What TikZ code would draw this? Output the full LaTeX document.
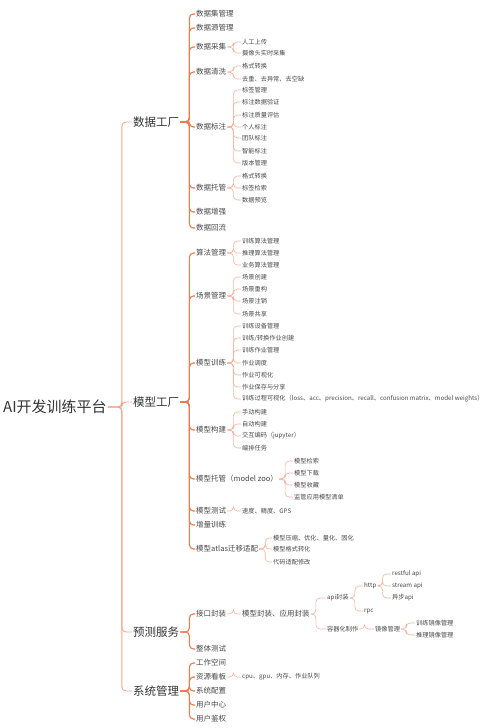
\documentclass[tikz,border=0pt]{standalone}
\usepackage{fontspec}
\setmainfont{Noto Sans CJK SC}
\definecolor{rootColor}{HTML}{F2A68C}
\definecolor{branchColor}{HTML}{EE7A4E}
\definecolor{leafColor}{HTML}{F4B29C}
\definecolor{txtColor}{HTML}{333333}
\definecolor{subColor}{HTML}{484848}
\tikzset{
	fork/.style={rounded corners=4pt, to path={(\tikztostart.east) -- ++(#1,0) |- (\tikztotarget.west)}},
	fork/.default=6,
	rootLink/.style={fork=14, draw=rootColor, line width=0.9pt},
	branchLink/.style={fork=9, draw=branchColor, line width=1.1pt},
	leafLink/.style={fork=#1, draw=leafColor, line width=0.6pt},
	leafLink/.default=6,
	rootBox/.style={anchor=west, inner sep=1pt, text=txtColor, font=\fontsize{15}{15}\selectfont},
	mainBox/.style={anchor=west, inner sep=1pt, text=txtColor, font=\fontsize{11.5}{12}\selectfont},
	subBox/.style={anchor=west, inner sep=1pt, text=subColor, font=\fontsize{7.5}{8}\selectfont},
	leafBox/.style={anchor=west, inner sep=1pt, text=subColor, font=\fontsize{6.2}{7}\selectfont}
}

\begin{document}
\begin{tikzpicture}[x=1pt,y=-1pt]
	\useasboundingbox (0,0) rectangle (500,728);
	\node[rootBox] (r) at (2, 407) {AI开发训练平台};
	\node[mainBox] (d) at (132, 122) {数据工厂};
	\node[mainBox] (m) at (132, 402) {模型工厂};
	\node[mainBox] (p) at (132, 632) {预测服务};
	\node[mainBox] (s) at (132, 691) {系统管理};
	\path[rootLink] (r) edge (d) edge (m) edge (p) edge (s);
	% data factory
	\node[subBox] (d1) at (195, 14) {数据集管理};
	\node[subBox] (d2) at (195, 28) {数据源管理};
	\node[subBox] (d3) at (195, 47) {数据采集};
	\node[subBox] (d4) at (195, 72) {数据清洗};
	\node[subBox] (d5) at (195, 127) {数据标注};
	\node[subBox] (d6) at (195, 188) {数据托管};
	\node[subBox] (d7) at (195, 212) {数据增强};
	\node[subBox] (d8) at (195, 228) {数据回流};
	\path[branchLink] (d) edge (d1) edge (d2) edge (d3) edge (d4) edge (d5) edge (d6) edge (d7) edge (d8);
	\node[leafBox] (d3_1) at (241, 42) {人工上传};
	\node[leafBox] (d3_2) at (241, 53) {摄像头实时采集};
	\path[leafLink] (d3) edge (d3_1) edge (d3_2);
	\node[leafBox] (d4_1) at (241, 66) {格式转换};
	\node[leafBox] (d4_2) at (241, 79) {去重、去异常、去空缺};
	\path[leafLink] (d4) edge (d4_1) edge (d4_2);
	\node[leafBox] (d5_1) at (241, 90) {标签管理};
	\node[leafBox] (d5_2) at (241, 102) {标注数据验证};
	\node[leafBox] (d5_3) at (241, 115) {标注质量评估};
	\node[leafBox] (d5_4) at (241, 127) {个人标注};
	\node[leafBox] (d5_5) at (241, 138) {团队标注};
	\node[leafBox] (d5_6) at (241, 151) {智能标注};
	\node[leafBox] (d5_7) at (241, 163) {版本管理};
	\path[leafLink] (d5) edge (d5_1) edge (d5_2) edge (d5_3) edge (d5_4) edge (d5_5) edge (d5_6) edge (d5_7);
	\node[leafBox] (d6_1) at (241, 176) {格式转换};
	\node[leafBox] (d6_2) at (241, 188) {标签检索};
	\node[leafBox] (d6_3) at (241, 200) {数据预览};
	\path[leafLink] (d6) edge (d6_1) edge (d6_2) edge (d6_3);
	% model factory
	\node[subBox] (m1) at (195, 253) {算法管理};
	\node[subBox] (m2) at (195, 296) {场景管理};
	\node[subBox] (m3) at (195, 363) {模型训练};
	\node[subBox] (m4) at (195, 430) {模型构建};
	\node[subBox] (m5) at (195, 479) {模型托管（model zoo）};
	\node[subBox] (m6) at (195, 511) {模型测试};
	\node[subBox] (m7) at (195, 525) {增量训练};
	\node[subBox] (m8) at (195, 549) {模型atlas迁移适配};
	\path[branchLink] (m) edge (m1) edge (m2) edge (m3) edge (m4) edge (m5) edge (m6) edge (m7) edge (m8);
	\node[leafBox] (m1_1) at (241, 241) {训练算法管理};
	\node[leafBox] (m1_2) at (241, 253) {推理算法管理};
	\node[leafBox] (m1_3) at (241, 265) {业务算法管理};
	\path[leafLink] (m1) edge (m1_1) edge (m1_2) edge (m1_3);
	\node[leafBox] (m2_1) at (241, 277) {场景创建};
	\node[leafBox] (m2_2) at (241, 289) {场景重构};
	\node[leafBox] (m2_3) at (241, 301) {场景注销};
	\node[leafBox] (m2_4) at (241, 314) {场景共享};
	\path[leafLink] (m2) edge (m2_1) edge (m2_2) edge (m2_3) edge (m2_4);
	\node[leafBox] (m3_1) at (241, 326) {训练设备管理};
	\node[leafBox] (m3_2) at (241, 338) {训练/转换作业创建};
	\node[leafBox] (m3_3) at (241, 350) {训练作业管理};
	\node[leafBox] (m3_4) at (241, 363) {作业调度};
	\node[leafBox] (m3_5) at (241, 375) {作业可视化};
	\node[leafBox] (m3_6) at (241, 387) {作业保存与分享};
	\node[leafBox] (m3_7) at (241, 399) {训练过程可视化（loss、acc、precision、recall、confusion matrix、model weights）};
	\path[leafLink] (m3) edge (m3_1) edge (m3_2) edge (m3_3) edge (m3_4) edge (m3_5) edge (m3_6) edge (m3_7);
	\node[leafBox] (m4_1) at (241, 412) {手动构建};
	\node[leafBox] (m4_2) at (241, 424) {自动构建};
	\node[leafBox] (m4_3) at (241, 436) {交互编码（jupyter）};
	\node[leafBox] (m4_4) at (241, 448) {编排任务};
	\path[leafLink] (m4) edge (m4_1) edge (m4_2) edge (m4_3) edge (m4_4);
	\node[leafBox] (m5_1) at (293, 461) {模型检索};
	\node[leafBox] (m5_2) at (293, 473) {模型下载};
	\node[leafBox] (m5_3) at (293, 485) {模型收藏};
	\node[leafBox] (m5_4) at (293, 497) {监管应用模型清单};
	\path[leafLink] (m5) edge (m5_1) edge (m5_2) edge (m5_3) edge (m5_4);
	\node[leafBox] (m6_1) at (241, 511) {速度、精度、GPS};
	\path[leafLink] (m6) edge (m6_1);
	\node[leafBox] (m8_1) at (272, 538) {模型压缩、优化、量化、固化};
	\node[leafBox] (m8_2) at (272, 549) {模型格式转化};
	\node[leafBox] (m8_3) at (272, 562) {代码适配修改};
	\path[leafLink] (m8) edge (m8_1) edge (m8_2) edge (m8_3);
	% prediction service
	\node[subBox] (p1) at (195, 614) {接口封装};
	\node[subBox] (p2) at (195, 649) {整体测试};
	\path[branchLink] (p) edge (p1) edge (p2);
	\node[subBox] (p1_1) at (241, 614) {模型封装、应用封装};
	\path[leafLink] (p1) edge (p1_1);
	\node[leafBox] (api) at (326, 598) {api封装};
	\node[leafBox] (box) at (326, 629) {容器化制作};
	\path[leafLink=5] (p1_1) edge (api) edge (box);
	\node[leafBox] (http) at (363, 586) {http};
	\node[leafBox] (rpc) at (363, 611) {rpc};
	\path[leafLink=5] (api) edge (http) edge (rpc);
	\node[leafBox] (http_1) at (391, 574) {restful api};
	\node[leafBox] (http_2) at (391, 586) {stream api};
	\node[leafBox] (http_3) at (391, 598) {异步api};
	\path[leafLink=5] (http) edge (http_1) edge (http_2) edge (http_3);
	\node[leafBox] (img) at (374, 629) {镜像管理};
	\path[leafLink=5] (box) edge (img);
	\node[leafBox] (img_1) at (415, 623) {训练镜像管理};
	\node[leafBox] (img_2) at (415, 635) {推理镜像管理};
	\path[leafLink=5] (img) edge (img_1) edge (img_2);
	% system management
	\node[subBox] (s1) at (195, 663) {工作空间};
	\node[subBox] (s2) at (195, 677) {资源看板};
	\node[subBox] (s3) at (195, 691) {系统配置};
	\node[subBox] (s4) at (195, 705) {用户中心};
	\node[subBox] (s5) at (195, 719) {用户鉴权};
	\path[branchLink] (s) edge (s1) edge (s2) edge (s3) edge (s4) edge (s5);
	\node[leafBox] (s2_1) at (241, 677) {cpu、gpu、内存、作业队列};
	\path[leafLink] (s2) edge (s2_1);
\end{tikzpicture}
\end{document}
